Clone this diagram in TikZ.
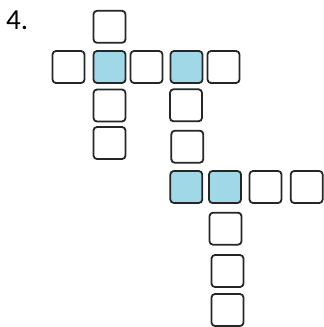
\documentclass[tikz,border=0pt]{standalone}
\usepackage{fontspec}
\setmainfont{Carlito}
\definecolor{cellblue}{RGB}{160,216,232}
\tikzset{
  cell/.style={draw=black!85, line width=1.8pt, rounded corners=3.5pt, minimum width=32pt, minimum height=32pt, inner sep=0pt, fill=white},
  bluecell/.style={cell, fill=cellblue}
}
\begin{document}
\begin{tikzpicture}[x=1pt,y=-1pt]
\useasboundingbox (0,0) rectangle (324,327);
\node[anchor=base west, inner sep=0pt, font=\fontsize{29}{30}\selectfont] (lbl) at (6,29.5) {4.};
% first cross
\node[cell] (a1) at (109.5,26.8) {};
\node[cell] (a2) at (68.5,67) {};
\node[bluecell] (a3) at (109.5,67) {};
\node[cell] (a4) at (146.5,67) {};
\node[bluecell] (a5) at (186.5,67) {};
\node[cell] (a6) at (223.5,67) {};
\node[cell] (a7) at (109.5,105.5) {};
\node[cell] (a8) at (109.5,143) {};
% second column
\node[cell] (b1) at (186,105.3) {};
\node[cell] (b2) at (187.3,146.7) {};
\node[bluecell] (b3) at (186.3,187) {};
\node[bluecell] (b4) at (225,187) {};
\node[cell] (b5) at (265.5,187) {};
\node[cell] (b6) at (306.7,187) {};
\node[cell] (b7) at (225.5,228.7) {};
\node[cell] (b8) at (227.5,271) {};
\node[cell] (b9) at (227.5,310) {};
\end{tikzpicture}
\end{document}
